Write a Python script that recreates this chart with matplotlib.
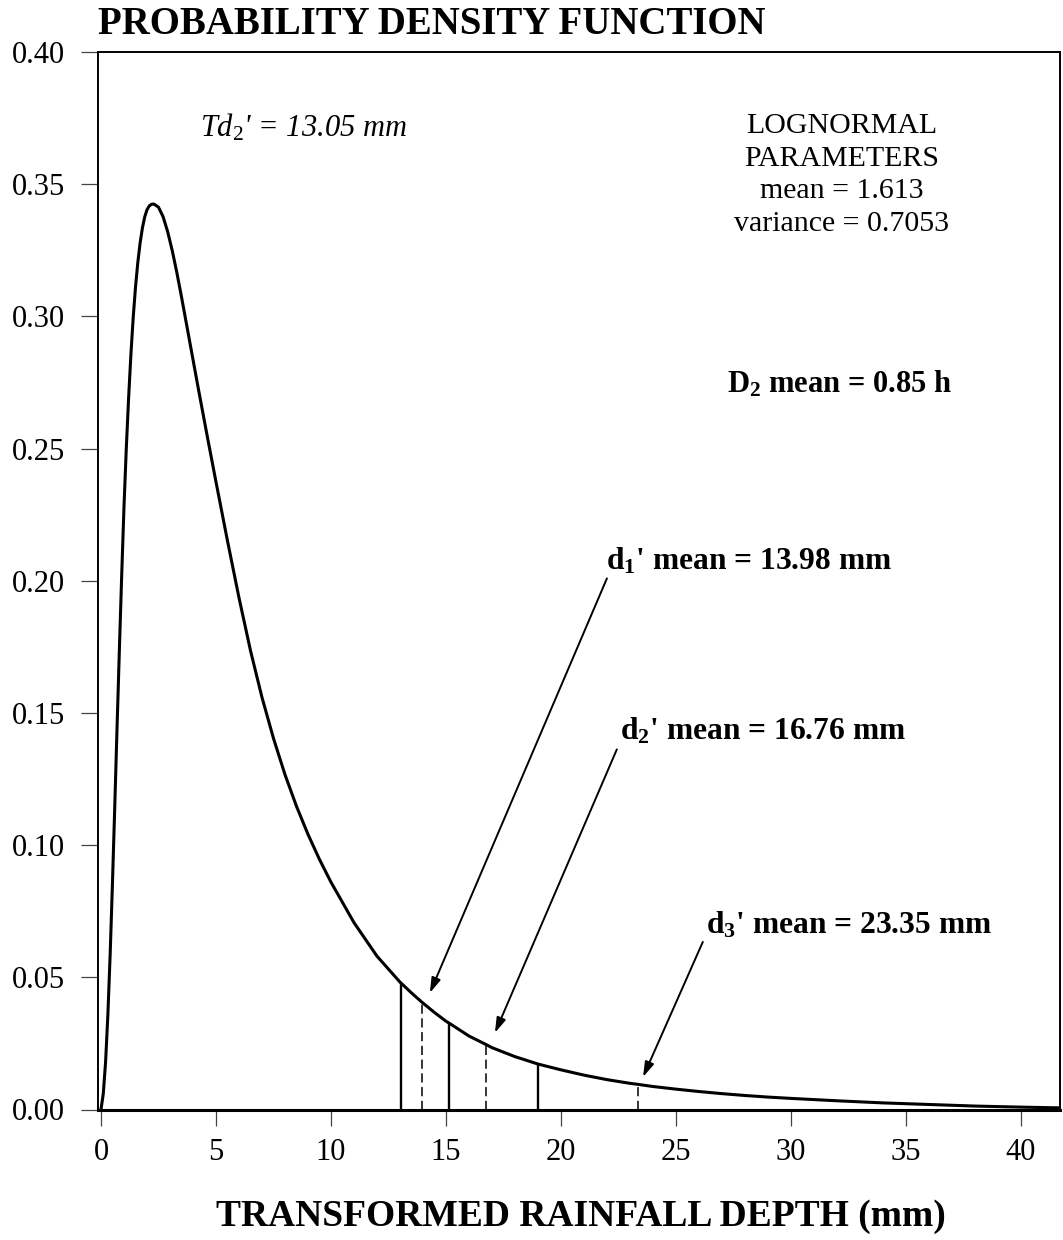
import matplotlib
matplotlib.use("Agg")
import matplotlib.pyplot as plt

plt.rcParams['font.family'] = ['Liberation Serif', 'DejaVu Serif']
plt.rcParams['mathtext.fontset'] = 'custom'
plt.rcParams['mathtext.rm'] = 'Liberation Serif'
plt.rcParams['mathtext.it'] = 'Liberation Serif:italic'
plt.rcParams['mathtext.bf'] = 'Liberation Serif:bold'

# ---- data ----
curve_x = [0.0, 0.1, 0.2, 0.3, 0.4, 0.5, 0.6, 0.7, 0.8, 0.9, 1.0, 1.1, 1.2, 1.3,
           1.4, 1.5, 1.6, 1.7, 1.8, 1.9, 2.0, 2.1, 2.2, 2.3, 2.5, 2.7, 2.9, 3.1,
           3.3, 3.5, 3.8, 4.2, 4.6, 5.0, 5.5, 6.0, 6.5, 7.0, 7.5, 8.0, 8.5, 9.0,
           9.5, 10.0, 11.0, 12.0, 13.0, 13.05, 13.5, 13.98, 14.5, 15.0, 15.15,
           16.0, 16.76, 17.0, 18.0, 19.0, 20.0, 21.0, 22.0, 23.0, 23.35, 24.0,
           25.0, 26.0, 27.0, 28.0, 29.0, 30.0, 32.0, 34.0, 36.0, 38.0, 40.0, 41.8]
curve_y = [0.000, 0.006, 0.018, 0.036, 0.059, 0.086, 0.115, 0.145, 0.174, 0.202,
           0.228, 0.250, 0.269, 0.2855, 0.2995, 0.3110, 0.3203, 0.3277, 0.3334,
           0.3376, 0.3403, 0.3418, 0.3424, 0.3425, 0.3413, 0.3377, 0.3320, 0.3248,
           0.3165, 0.3074, 0.2932, 0.2742, 0.2556, 0.2374, 0.2151, 0.1936, 0.1736,
           0.1559, 0.1404, 0.1267, 0.1147, 0.1041, 0.0946, 0.0860, 0.0707, 0.0580,
           0.0482, 0.0478, 0.0441, 0.0404, 0.0367, 0.0334, 0.0326, 0.0278, 0.0245,
           0.0234, 0.0200, 0.0172, 0.0150, 0.0130, 0.0113, 0.0099, 0.0095, 0.0087,
           0.0077, 0.0068, 0.0060, 0.0053, 0.0047, 0.0042, 0.0033, 0.0025, 0.0019,
           0.0013, 0.0009, 0.0006]

bound_x = [13.05, 15.15, 19.0]          # solid class limits
bound_top = [0.0478, 0.0326, 0.0172]
mean_x = [13.98, 16.76, 23.35]          # dashed class means
mean_top = [0.0404, 0.0245, 0.0095]

mean_labels = [r"d$_\mathbf{1}$' mean = 13.98 mm", r"d$_\mathbf{2}$' mean = 16.76 mm",
               r"d$_\mathbf{3}$' mean = 23.35 mm"]
label_pos = [(21.95, 0.2044), (22.55, 0.1400), (26.3, 0.0665)]
arrow_start = [(22.0, 0.2009), (22.43, 0.1362), (26.17, 0.0634)]
arrow_end = [(14.3, 0.0441), (17.13, 0.0290), (23.57, 0.0123)]

xticks = [0, 5, 10, 15, 20, 25, 30, 35, 40]
yticks = [0.00, 0.05, 0.10, 0.15, 0.20, 0.25, 0.30, 0.35, 0.40]

W, H = 1063, 1240
fig = plt.figure(figsize=(W / 100, H / 100), dpi=100)
ax = fig.add_axes([98 / W, 1 - 1109.5 / H, (1060 - 98) / W, (1109.5 - 52) / H])

ax.plot(curve_x, curve_y, color='black', lw=2.2, solid_joinstyle='round',
        solid_capstyle='round', zorder=3)
ax.vlines(bound_x, 0, bound_top, colors='black', lw=1.7)
ax.vlines(mean_x, 0, mean_top, colors='black', lw=1.1, linestyles=(0, (6, 3)))

ax.set_xlim(-0.13, 41.70)
ax.set_ylim(0, 0.40)
ax.set_xticks(xticks)
ax.set_xticklabels([str(v) for v in xticks])
ax.set_yticks(yticks)
ax.set_yticklabels([f"{v:.2f}" for v in yticks])
ax.tick_params(axis='both', direction='out', labelsize=22, width=0.9,
               color='#444444')
ax.tick_params(axis='y', length=12.5, pad=11)
ax.tick_params(axis='x', length=11.5, pad=9)

for s in ['left', 'top', 'right']:
    ax.spines[s].set_linewidth(1.4)
ax.spines['bottom'].set_linewidth(2.2)

# annotations
ax.text(4.3, 0.3715, r"$\mathit{Td}_{2}$' = 13.05 mm", fontsize=22, style='italic',
        ha='left', va='center')
ax.text(32.2, 0.3535, "LOGNORMAL\nPARAMETERS\nmean = 1.613\nvariance = 0.7053",
        fontsize=21.5, ha='center', va='center', linespacing=1.33)
ax.text(32.1, 0.2745, r"D$_\mathbf{2}$ mean = 0.85 h", fontsize=22, fontweight='bold',
        ha='center', va='center')

for lab, (tx, ty), (sx, sy), (ex, ey) in zip(mean_labels, label_pos, arrow_start, arrow_end):
    ax.text(tx, ty, lab, fontsize=22.7, fontweight='bold', ha='left', va='baseline')
    ax.annotate('', xy=(ex, ey), xytext=(sx, sy),
                arrowprops=dict(arrowstyle='-|>,head_length=0.9,head_width=0.28',
                                color='black', lw=1.4, shrinkA=0, shrinkB=0))

fig.text(98 / W, 1 - 24 / H, "PROBABILITY DENSITY FUNCTION", fontsize=28,
         fontweight='bold', ha='left', va='center')
fig.text(581 / W, 1 - 1216 / H, "TRANSFORMED RAINFALL DEPTH (mm)", fontsize=27,
         fontweight='bold', ha='center', va='center')

fig.savefig("out.png", dpi=100)
